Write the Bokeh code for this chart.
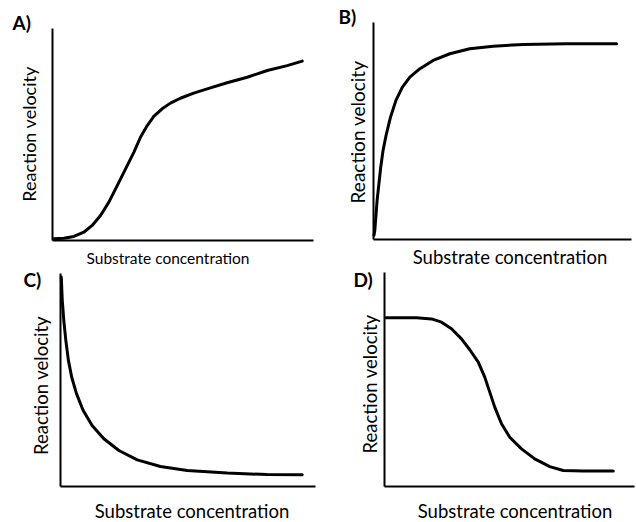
import math
from bokeh.plotting import figure
from bokeh.layouts import column, row
from bokeh.models import Range1d, Label, FixedTicker
from bokeh.embed import file_html
from bokeh.resources import INLINE

FONT = "Lato"

x_label = "Substrate concentration"
y_label = "Reaction velocity"
letters = ["A)", "B)", "C)", "D)"]

# Panel A: sigmoidal (allosteric) curve
a_x = [0.05, 0.43, 0.82, 1.20, 1.52, 1.84, 2.16, 2.48, 2.80, 3.12, 3.37, 3.63, 3.88,
       4.20, 4.52, 4.90, 5.41, 6.05, 6.69, 7.46, 8.23, 8.99, 9.57]
a_y = [0.08, 0.11, 0.19, 0.39, 0.71, 1.18, 1.81, 2.59, 3.38, 4.17, 4.87, 5.42, 5.85,
       6.21, 6.48, 6.71, 6.95, 7.20, 7.44, 7.70, 8.02, 8.25, 8.46]

# Panel B: hyperbolic (Michaelis-Menten) curve
b_x = [0.02, 0.05, 0.09, 0.14, 0.21, 0.28, 0.37, 0.50, 0.66, 0.87, 1.12, 1.41, 1.80,
       2.31, 2.96, 3.73, 4.64, 5.80, 7.48, 9.42]
b_y = [0.20, 0.41, 1.03, 1.80, 2.57, 3.33, 4.10, 4.87, 5.64, 6.41, 7.02, 7.48, 7.87,
       8.25, 8.56, 8.79, 8.91, 8.99, 9.02, 9.02]

# Panel C: hyperbolic decay
c_x = [0.03, 0.07, 0.13, 0.21, 0.31, 0.44, 0.63, 0.89, 1.24, 1.70, 2.29, 3.01, 3.92,
       4.97, 6.54, 8.10, 9.48]
c_y = [9.83, 8.73, 7.79, 6.85, 5.92, 5.13, 4.35, 3.57, 2.86, 2.24, 1.69, 1.25, 0.94,
       0.75, 0.63, 0.56, 0.55]

# Panel D: inverse sigmoid
d_x = [0.05, 1.28, 1.88, 2.28, 2.68, 3.08, 3.41, 3.75, 4.01, 4.21, 4.41, 4.68, 5.01,
       5.48, 6.01, 6.61, 7.15, 7.95, 9.15]
d_y = [7.88, 7.88, 7.83, 7.68, 7.37, 6.90, 6.39, 5.81, 5.11, 4.41, 3.71, 2.93, 2.30,
       1.76, 1.29, 0.93, 0.75, 0.72, 0.72]

# empirical shift of the rendered baseline, as a fraction of the font size
BASELINE_FIX = 0.42


def make_panel(letter, xs, ys, size, origin, scale, letter_px, xlab_px, ylab_px,
               xlab_size, ylab_size):
    fw, fh = size
    ox, oy = origin          # pixel position of the data origin inside the figure
    sx, sy = scale           # pixels per data unit

    def to_data(px, py):
        return (px - ox) / sx, (oy - py) / sy

    p = figure(width=fw, height=fh, output_backend="svg", toolbar_location=None,
               x_range=Range1d(-ox / sx, (fw - ox) / sx),
               y_range=Range1d(-(fh - oy) / sy, oy / sy),
               min_border=0, background_fill_color="white",
               border_fill_color="white", outline_line_color=None)
    p.grid.visible = False
    for ax in (p.xaxis[0], p.yaxis[0]):
        ax.ticker = FixedTicker(ticks=[])
        ax.major_tick_out = 0
        ax.major_tick_in = 0
        ax.minor_tick_out = 0
        ax.minor_tick_in = 0
        ax.major_label_standoff = 0
        ax.axis_line_color = "black"
        ax.axis_line_width = 2
        ax.fixed_location = 0
        ax.bounds = (0, 10)

    p.line(xs, ys, line_width=3, line_color="black",
           line_join="round", line_cap="round")

    lfs = 19
    lx, ly = to_data(letter_px[0], letter_px[1] - BASELINE_FIX * lfs)
    p.add_layout(Label(x=lx, y=ly, text=letter, text_font=FONT,
                       text_font_size=f"{lfs}px", text_font_style="bold",
                       text_color="black", text_baseline="alphabetic",
                       text_align="left"))
    xx, xy = to_data(xlab_px[0], xlab_px[1] - BASELINE_FIX * xlab_size)
    p.add_layout(Label(x=xx, y=xy, text=x_label, text_font=FONT,
                       text_font_size=f"{xlab_size}px", text_color="black",
                       text_baseline="alphabetic", text_align="center"))
    yx, yy = to_data(ylab_px[0] - BASELINE_FIX * ylab_size, ylab_px[1])
    p.add_layout(Label(x=yx, y=yy, text=y_label, text_font=FONT,
                       text_font_size=f"{ylab_size}px", text_color="black",
                       text_baseline="alphabetic", text_align="center",
                       angle=math.pi / 2))
    return p


pA = make_panel(letters[0], a_x, a_y, (316, 268), (52, 240), (26.1, 21.2),
                (12, 30), (167.5, 264), (36, 133.5), 15.5, 18)
pB = make_panel(letters[1], b_x, b_y, (320, 268), (57, 239), (25.8, 21.7),
                (22, 24), (193.5, 264), (49, 131.5), 18.5, 19)
pC = make_panel(letters[2], c_x, c_y, (316, 254), (60, 218), (25.5, 21.3),
                (23, 19), (191.5, 250), (48, 117), 18.5, 18.5)
pD = make_panel(letters[3], d_x, d_y, (320, 254), (68, 218), (25.0, 21.4),
                (37, 19), (198.5, 250), (61, 115.5), 18.5, 18.5)

layout = column(row(pA, pB), row(pC, pD))

open("out.html", "w").write(file_html(layout, INLINE))
